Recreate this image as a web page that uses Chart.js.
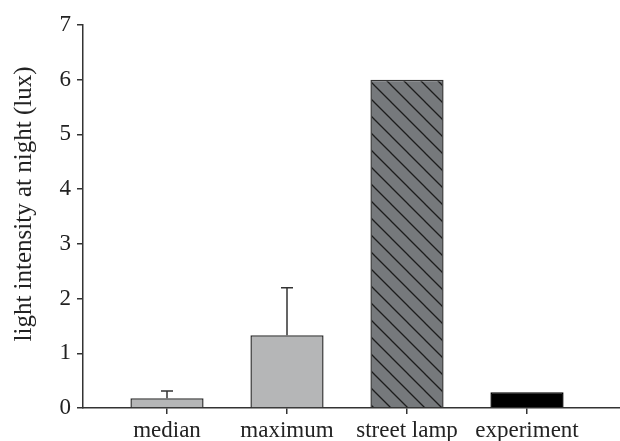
<!DOCTYPE html>
<html>
<head>
<meta charset="utf-8">
<script src="https://cdn.jsdelivr.net/npm/chart.js@4"></script>
<style>
  html, body { margin: 0; padding: 0; background: #fff; }
  #wrap { width: 620px; height: 441px; }
</style>
</head>
<body>
<div id="wrap"><canvas id="chart"></canvas></div>
<script>
// data
const categories = ['median', 'maximum', 'street lamp', 'experiment'];
const lightValues = [0.18, 1.33, 6.0, 0.29]; // lux
const errorPlus = [0.13, 0.87, 0, 0]; // upper error bar length
const yTicks = [0, 1, 2, 3, 4, 5, 6, 7];
const yTitle = 'light intensity at night (lux)';

// diagonal hatch for the street lamp bar
function makeHatch() {
    const size = 17;
    const c = document.createElement('canvas');
    c.width = size; c.height = size;
    const g = c.getContext('2d');
    g.fillStyle = '#76797c';
    g.fillRect(0, 0, size, size);
    g.strokeStyle = '#1c1c1c';
    g.lineWidth = 1.3;
    g.beginPath();
    g.moveTo(-2, -2); g.lineTo(size + 2, size + 2);
    g.moveTo(-2, size - 2); g.lineTo(2, size + 2);
    g.moveTo(size - 2, -2); g.lineTo(size + 2, 2);
    g.stroke();
    return g.createPattern(c, 'repeat');
}

const ctx = document.getElementById('chart').getContext('2d');
const hatch = makeHatch();

// upper error bars with a small cap
const errorBars = {
    id: 'errorBars',
    afterDatasetsDraw(chart) {
        const x = chart.scales.x, y = chart.scales.y;
        const c = chart.ctx;
        c.save();
        c.strokeStyle = '#333';
        c.lineWidth = 1.5;
        errorPlus.forEach((e, i) => {
            if (!e) return;
            const px = x.getPixelForValue(i);
            const top = y.getPixelForValue(lightValues[i] + e);
            const bot = y.getPixelForValue(lightValues[i]);
            c.beginPath();
            c.moveTo(px, bot); c.lineTo(px, top);
            c.moveTo(px - 6, top); c.lineTo(px + 6, top);
            c.stroke();
        });
        c.restore();
    }
};

// y axis title, a bit above the centre like in the figure
const sideTitle = {
    id: 'sideTitle',
    afterDraw(chart) {
        const c = chart.ctx;
        c.save();
        c.translate(24, 204);
        c.rotate(-Math.PI / 2);
        c.font = '25px "Liberation Serif", "Times New Roman", serif';
        c.fillStyle = '#222';
        c.textAlign = 'center';
        c.textBaseline = 'middle';
        c.fillText(yTitle, 0, 0);
        c.restore();
    }
};

Chart.defaults.font.family = '"Liberation Serif", "Times New Roman", serif';
Chart.defaults.color = '#222';

new Chart(ctx, {
    type: 'bar',
    data: {
        datasets: [{
            data: lightValues.map((v, i) => ({ x: i, y: v })),
            backgroundColor: ['#b5b6b7', '#b5b6b7', hatch, '#000'],
            borderColor: ['#333', '#333', '#333', '#000'],
            borderWidth: 1.5,
            borderSkipped: 'bottom',
            categoryPercentage: 1,
            barPercentage: 0.61
        }]
    },
    options: {
        responsive: true,
        maintainAspectRatio: false,
        animation: false,
        layout: { padding: { top: 25, right: 0, left: 0, bottom: 0 } },
        plugins: { legend: { display: false }, tooltip: { enabled: false } },
        scales: {
            x: {
                type: 'linear',
                offset: false,
                min: -0.7,
                max: 3.775,
                afterBuildTicks: s => { s.ticks = categories.map((_, i) => ({ value: i })); },
                afterFit: s => { s.height = 33; },
                ticks: {
                    callback: v => categories[v],
                    font: { size: 23 },
                    padding: 3,
                    maxRotation: 0,
                    autoSkip: false
                },
                grid: { display: true, offset: false, drawOnChartArea: false, drawTicks: true, tickLength: 6, color: '#333', lineWidth: 1.5 },
                border: { display: true, color: '#333', width: 1.5 }
            },
            y: {
                min: 0,
                max: 7,
                afterBuildTicks: s => { s.ticks = yTicks.map(v => ({ value: v })); },
                afterFit: s => { s.width = 83; },
                ticks: { font: { size: 23 }, padding: 6 },
                grid: { display: true, drawOnChartArea: false, drawTicks: true, tickLength: 6, color: '#333', lineWidth: 1.5 },
                border: { display: true, color: '#333', width: 1.5 }
            }
        }
    },
    plugins: [errorBars, sideTitle]
});
</script>
</body>
</html>
